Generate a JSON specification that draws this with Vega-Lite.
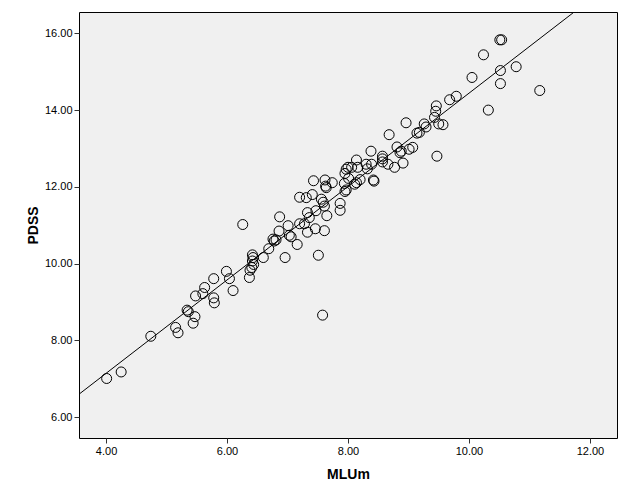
{
  "$schema": "https://vega.github.io/schema/vega-lite/v6.json",
  "autosize": "none",
  "width": 538,
  "height": 426,
  "padding": {"left": 79, "top": 12, "right": 12, "bottom": 66},
  "background": "white",
  "config": {
    "view": {"fill": "#F0F0F0", "stroke": "#000000", "strokeWidth": 1},
    "axis": {
      "grid": false,
      "domain": false,
      "ticks": true,
      "tickColor": "#333333",
      "tickSize": 5,
      "labelFont": "Liberation Sans",
      "labelFontSize": 11,
      "labelColor": "#000000",
      "labelPadding": 2,
      "titleFont": "Liberation Sans",
      "titleFontSize": 14,
      "titleFontWeight": "bold",
      "titleColor": "#000000"
    }
  },
  "datasets": {
    "pts": [
      {"MLUm": 4.01, "PDSS": 7.01}, {"MLUm": 4.25, "PDSS": 7.18}, {"MLUm": 4.74, "PDSS": 8.11},
      {"MLUm": 5.15, "PDSS": 8.34}, {"MLUm": 5.19, "PDSS": 8.20}, {"MLUm": 5.44, "PDSS": 8.45},
      {"MLUm": 5.34, "PDSS": 8.79}, {"MLUm": 5.36, "PDSS": 8.75}, {"MLUm": 5.47, "PDSS": 8.62},
      {"MLUm": 5.48, "PDSS": 9.16}, {"MLUm": 5.60, "PDSS": 9.22}, {"MLUm": 5.63, "PDSS": 9.38},
      {"MLUm": 5.78, "PDSS": 9.61}, {"MLUm": 5.78, "PDSS": 9.11}, {"MLUm": 5.79, "PDSS": 8.98},
      {"MLUm": 5.99, "PDSS": 9.80}, {"MLUm": 6.04, "PDSS": 9.61}, {"MLUm": 6.10, "PDSS": 9.30},
      {"MLUm": 6.26, "PDSS": 11.02}, {"MLUm": 6.37, "PDSS": 9.64}, {"MLUm": 6.38, "PDSS": 9.83},
      {"MLUm": 6.41, "PDSS": 9.90}, {"MLUm": 6.42, "PDSS": 10.23}, {"MLUm": 6.43, "PDSS": 10.16},
      {"MLUm": 6.42, "PDSS": 10.07}, {"MLUm": 6.44, "PDSS": 9.98}, {"MLUm": 6.60, "PDSS": 10.16},
      {"MLUm": 6.69, "PDSS": 10.39}, {"MLUm": 6.76, "PDSS": 10.64}, {"MLUm": 6.78, "PDSS": 10.59},
      {"MLUm": 6.81, "PDSS": 10.62}, {"MLUm": 6.87, "PDSS": 11.22}, {"MLUm": 6.86, "PDSS": 10.85},
      {"MLUm": 6.96, "PDSS": 10.16}, {"MLUm": 7.01, "PDSS": 10.99}, {"MLUm": 7.03, "PDSS": 10.74},
      {"MLUm": 7.06, "PDSS": 10.70}, {"MLUm": 7.16, "PDSS": 10.50}, {"MLUm": 7.20, "PDSS": 11.73},
      {"MLUm": 7.20, "PDSS": 11.04}, {"MLUm": 7.28, "PDSS": 11.04}, {"MLUm": 7.31, "PDSS": 11.72},
      {"MLUm": 7.33, "PDSS": 11.33}, {"MLUm": 7.33, "PDSS": 10.82}, {"MLUm": 7.36, "PDSS": 11.20},
      {"MLUm": 7.41, "PDSS": 11.80}, {"MLUm": 7.43, "PDSS": 12.16}, {"MLUm": 7.46, "PDSS": 10.91},
      {"MLUm": 7.47, "PDSS": 11.38}, {"MLUm": 7.51, "PDSS": 10.22}, {"MLUm": 7.56, "PDSS": 11.68},
      {"MLUm": 7.58, "PDSS": 8.66}, {"MLUm": 7.61, "PDSS": 10.86}, {"MLUm": 7.59, "PDSS": 11.60},
      {"MLUm": 7.61, "PDSS": 11.50}, {"MLUm": 7.62, "PDSS": 12.18}, {"MLUm": 7.63, "PDSS": 12.02},
      {"MLUm": 7.64, "PDSS": 11.98}, {"MLUm": 7.65, "PDSS": 11.25}, {"MLUm": 7.74, "PDSS": 12.11},
      {"MLUm": 7.87, "PDSS": 11.57}, {"MLUm": 7.87, "PDSS": 11.39}, {"MLUm": 7.94, "PDSS": 12.09},
      {"MLUm": 7.95, "PDSS": 12.35}, {"MLUm": 7.95, "PDSS": 11.88}, {"MLUm": 7.97, "PDSS": 11.92},
      {"MLUm": 7.97, "PDSS": 12.46}, {"MLUm": 8.00, "PDSS": 12.51}, {"MLUm": 8.01, "PDSS": 12.22},
      {"MLUm": 8.06, "PDSS": 12.51}, {"MLUm": 8.11, "PDSS": 12.07}, {"MLUm": 8.14, "PDSS": 12.11},
      {"MLUm": 8.16, "PDSS": 12.51}, {"MLUm": 8.20, "PDSS": 12.19}, {"MLUm": 8.30, "PDSS": 12.59},
      {"MLUm": 8.32, "PDSS": 12.47}, {"MLUm": 8.39, "PDSS": 12.59}, {"MLUm": 8.42, "PDSS": 12.18},
      {"MLUm": 8.43, "PDSS": 12.15}, {"MLUm": 8.57, "PDSS": 12.65}, {"MLUm": 8.66, "PDSS": 12.59},
      {"MLUm": 8.77, "PDSS": 12.51}, {"MLUm": 8.91, "PDSS": 12.62}, {"MLUm": 8.96, "PDSS": 13.67},
      {"MLUm": 8.68, "PDSS": 13.36}, {"MLUm": 8.38, "PDSS": 12.93}, {"MLUm": 8.57, "PDSS": 12.80},
      {"MLUm": 8.57, "PDSS": 12.73}, {"MLUm": 8.14, "PDSS": 12.70}, {"MLUm": 8.81, "PDSS": 13.04},
      {"MLUm": 8.86, "PDSS": 12.89}, {"MLUm": 8.88, "PDSS": 12.93}, {"MLUm": 9.01, "PDSS": 12.98},
      {"MLUm": 9.07, "PDSS": 13.03}, {"MLUm": 9.14, "PDSS": 13.40}, {"MLUm": 9.18, "PDSS": 13.42},
      {"MLUm": 9.26, "PDSS": 13.64}, {"MLUm": 9.29, "PDSS": 13.56}, {"MLUm": 9.47, "PDSS": 12.80},
      {"MLUm": 9.43, "PDSS": 13.81}, {"MLUm": 9.45, "PDSS": 13.97}, {"MLUm": 9.46, "PDSS": 14.11},
      {"MLUm": 9.50, "PDSS": 13.64}, {"MLUm": 9.57, "PDSS": 13.62}, {"MLUm": 9.68, "PDSS": 14.27},
      {"MLUm": 9.79, "PDSS": 14.36}, {"MLUm": 10.05, "PDSS": 14.85}, {"MLUm": 10.24, "PDSS": 15.44},
      {"MLUm": 10.32, "PDSS": 14.00}, {"MLUm": 10.52, "PDSS": 15.03}, {"MLUm": 10.52, "PDSS": 14.69},
      {"MLUm": 10.51, "PDSS": 15.83}, {"MLUm": 10.54, "PDSS": 15.83}, {"MLUm": 10.78, "PDSS": 15.13},
      {"MLUm": 11.17, "PDSS": 14.51}
    ],
    "fit": [
      {"MLUm": 3.553, "PDSS": 6.60},
      {"MLUm": 12.45, "PDSS": 17.42}
    ]
  },
  "layer": [
    {
      "data": {"name": "fit"},
      "mark": {"type": "line", "color": "#000000", "strokeWidth": 1, "clip": true},
      "encoding": {
        "x": {"field": "MLUm", "type": "quantitative"},
        "y": {"field": "PDSS", "type": "quantitative"}
      }
    },
    {
      "data": {"name": "pts"},
      "mark": {"type": "point", "shape": "circle", "filled": false, "stroke": "#000000", "strokeWidth": 1, "size": 100, "opacity": 1},
      "encoding": {
        "x": {
          "field": "MLUm", "type": "quantitative",
          "scale": {"domain": [3.553, 12.447], "nice": false, "zero": false},
          "axis": {"title": "MLUm", "values": [4, 6, 8, 10, 12], "format": ".2f", "titlePadding": 11}
        },
        "y": {
          "field": "PDSS", "type": "quantitative",
          "scale": {"domain": [5.46, 16.555], "nice": false, "zero": false},
          "axis": {"title": "PDSS", "values": [6, 8, 10, 12, 14, 16], "format": ".2f", "titlePadding": 4}
        }
      }
    }
  ]
}
